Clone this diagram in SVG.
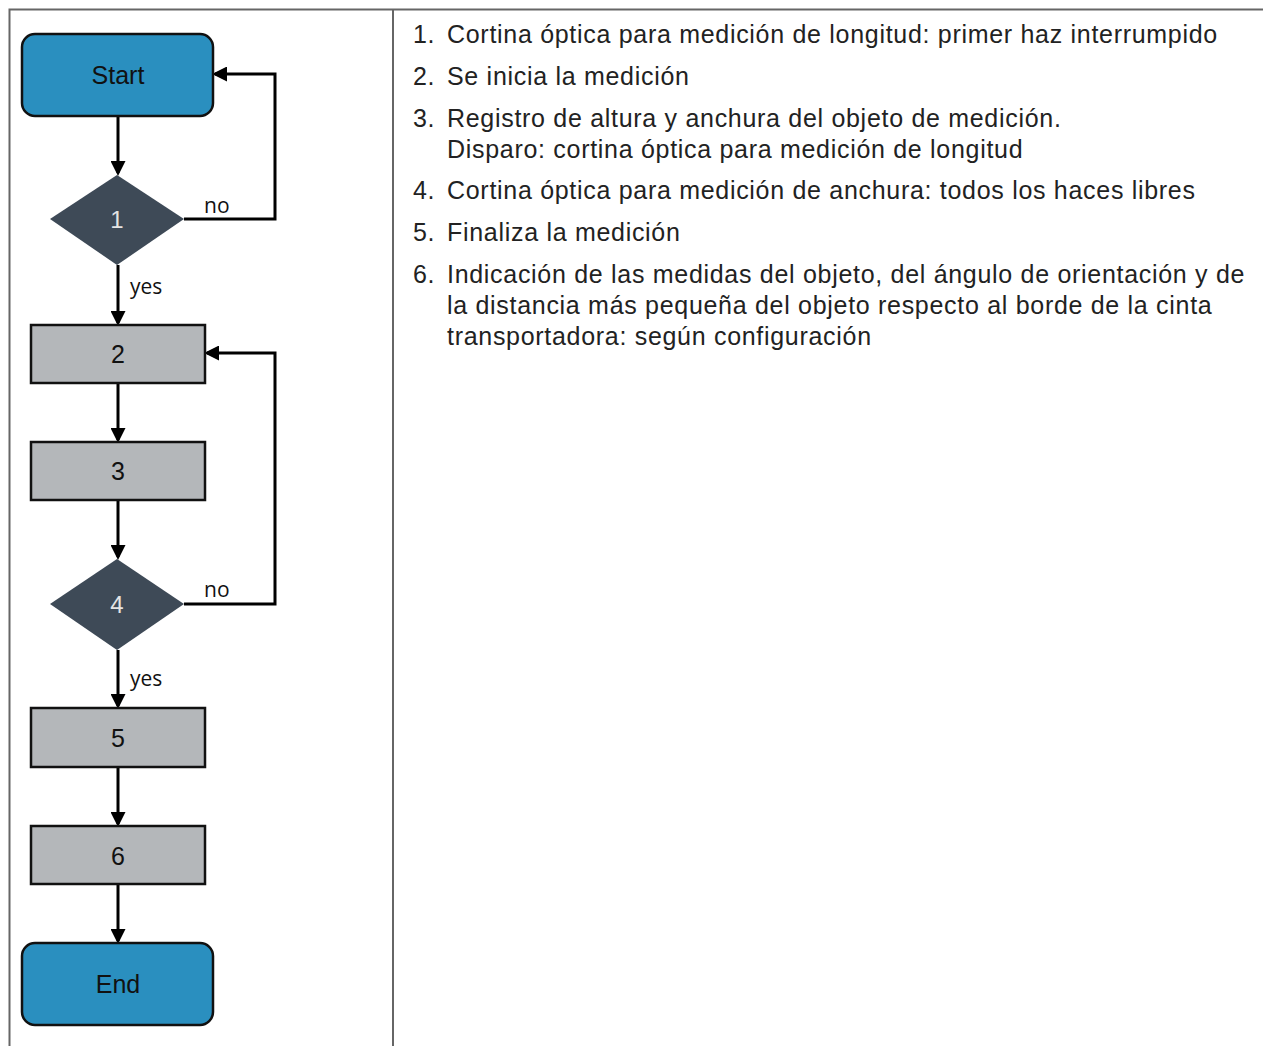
<svg xmlns="http://www.w3.org/2000/svg" width="1263" height="1046" viewBox="0 0 1263 1046">
<defs>
<style>
.frame{stroke:#666;stroke-width:2;fill:none}
.term{fill:#2a8fbf;stroke:#111;stroke-width:2.5}
.box{fill:#b4b7ba;stroke:#111;stroke-width:2.5}
.dia{fill:#3e4a57}
.lbl{font-family:"Liberation Sans",Arial,sans-serif;font-size:25px;fill:#111;text-anchor:middle}
.dlbl{font-family:"Liberation Sans",Arial,sans-serif;font-size:24px;fill:#e4e4e4;text-anchor:middle}
.edge{font-family:"Open Sans",sans-serif;font-size:21px;fill:#111}
.conn{stroke:#000;stroke-width:3;fill:none;marker-end:url(#ah)}
.desc{font-family:"Liberation Sans",Arial,sans-serif;font-size:25px;letter-spacing:0.7px;fill:#222}
</style>
<marker id="ah" markerWidth="5" markerHeight="5" refX="4" refY="2.5" orient="auto" markerUnits="strokeWidth">
<path d="M0,0 L5,2.5 L0,5 Z" fill="#000"/>
</marker>
</defs>
<rect width="1263" height="1046" fill="#fff"/>
<g id="frame">
<path class="frame" d="M9.5,1046 V9.5 H1263"/>
<path class="frame" d="M393,9.5 V1046"/>
</g>
<g id="connectors">
<path class="conn" d="M118,116 V173"/>
<path class="conn" d="M184,219 H275 V74 H215"/>
<path class="conn" d="M118,265 V323"/>
<path class="conn" d="M118,383 V440"/>
<path class="conn" d="M118,500 V557"/>
<path class="conn" d="M184,604 H275 V353 H207"/>
<path class="conn" d="M118,650 V706"/>
<path class="conn" d="M118,767 V824"/>
<path class="conn" d="M118,884 V941"/>
<text class="edge" x="204" y="213">no</text>
<text class="edge" x="130" y="294">yes</text>
<text class="edge" x="204" y="597">no</text>
<text class="edge" x="130" y="686">yes</text>
</g>
<g id="start">
<rect class="term" x="22" y="34" width="191" height="82" rx="13"/>
<text class="lbl" x="118" y="84" font-size="26">Start</text>
</g>
<g id="d1">
<polygon class="dia" points="117,175 184,219 117,265 50,219"/>
<text class="dlbl" x="117" y="228">1</text>
</g>
<g id="b2">
<rect class="box" x="31" y="325" width="174" height="58"/>
<text class="lbl" x="118" y="363">2</text>
</g>
<g id="b3">
<rect class="box" x="31" y="442" width="174" height="58"/>
<text class="lbl" x="118" y="480">3</text>
</g>
<g id="d4">
<polygon class="dia" points="117,559 184,604 117,650 50,604"/>
<text class="dlbl" x="117" y="613">4</text>
</g>
<g id="b5">
<rect class="box" x="31" y="708" width="174" height="59"/>
<text class="lbl" x="118" y="747">5</text>
</g>
<g id="b6">
<rect class="box" x="31" y="826" width="174" height="58"/>
<text class="lbl" x="118" y="865">6</text>
</g>
<g id="end">
<rect class="term" x="22" y="943" width="191" height="82" rx="13"/>
<text class="lbl" x="118" y="993" font-size="26">End</text>
</g>
<g id="legend">
<text class="desc" x="413" y="43">1.</text><text class="desc" x="447" y="43">Cortina óptica para medición de longitud: primer haz interrumpido</text>
<text class="desc" x="413" y="85">2.</text><text class="desc" x="447" y="85">Se inicia la medición</text>
<text class="desc" x="413" y="127">3.</text><text class="desc" x="447" y="127">Registro de altura y anchura del objeto de medición.</text>
<text class="desc" x="447" y="158">Disparo: cortina óptica para medición de longitud</text>
<text class="desc" x="413" y="199">4.</text><text class="desc" x="447" y="199">Cortina óptica para medición de anchura: todos los haces libres</text>
<text class="desc" x="413" y="241">5.</text><text class="desc" x="447" y="241">Finaliza la medición</text>
<text class="desc" x="413" y="283">6.</text><text class="desc" x="447" y="283">Indicación de las medidas del objeto, del ángulo de orientación y de</text>
<text class="desc" x="447" y="314">la distancia más pequeña del objeto respecto al borde de la cinta</text>
<text class="desc" x="447" y="345">transportadora: según configuración</text>
</g>
</svg>
